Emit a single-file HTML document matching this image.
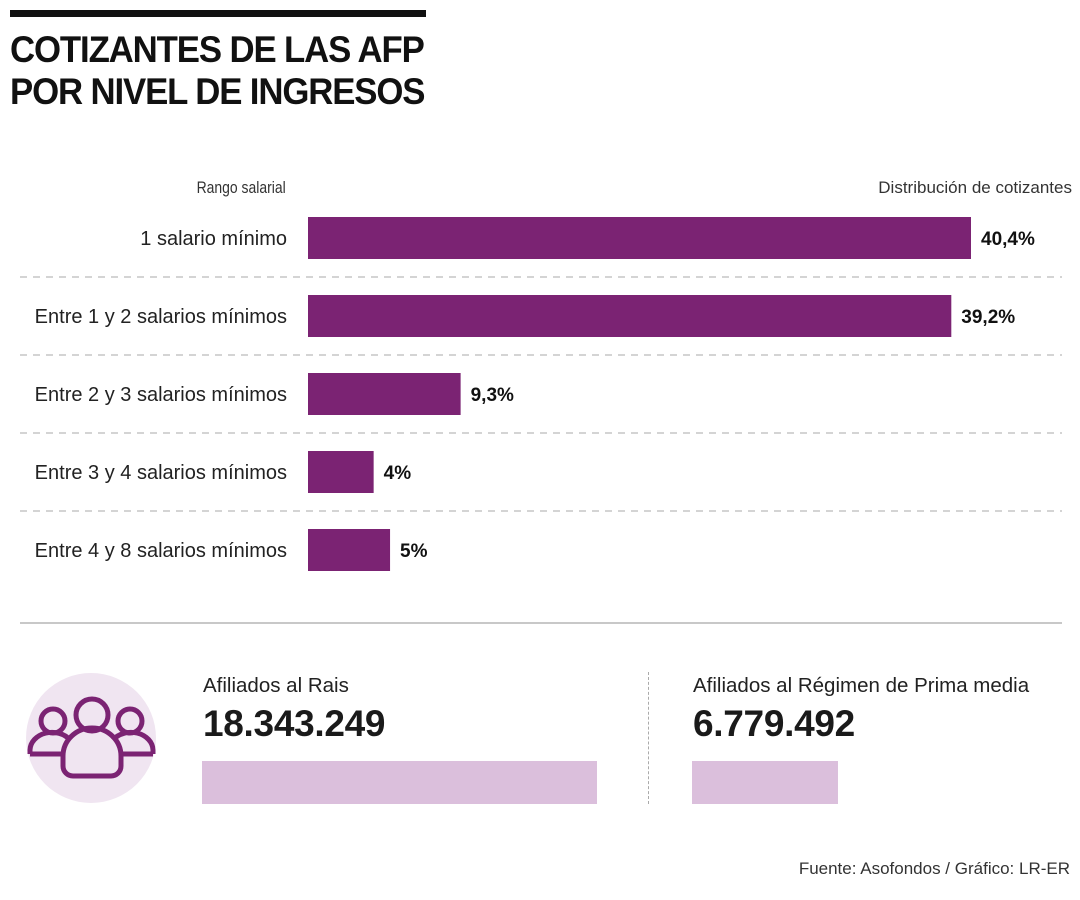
<!DOCTYPE html>
<html><head><meta charset="utf-8"><style>
html,body{margin:0;padding:0;background:#fff;}
body{width:1080px;height:900px;position:relative;overflow:hidden;font-family:"Liberation Sans",sans-serif;color:#1a1a1a;}
.abs{position:absolute;}
.title{left:10px;font-weight:bold;font-size:37px;letter-spacing:-1.2px;transform:scaleX(0.94);transform-origin:left top;white-space:nowrap;color:#111;}
.cond{transform:scaleX(0.82);white-space:nowrap;}
</style></head><body>
<div class="abs" style="left:10px;top:10px;width:416px;height:7px;background:#111"></div>
<div class="abs title" style="top:29px">COTIZANTES DE LAS AFP</div>
<div class="abs title" style="top:71px">POR NIVEL DE INGRESOS</div>
<div class="abs cond" style="right:794px;top:178px;font-size:17px;color:#333;transform-origin:right top">Rango salarial</div>
<div class="abs cond" style="right:8px;top:178px;font-size:17px;color:#333;transform-origin:right top;transform:scaleX(1.0)">Distribución de cotizantes</div>
<svg id="chart" class="abs" style="left:0;top:0" width="1080" height="900"></svg>
<div class="abs" style="left:20px;top:622px;width:1042px;height:2px;background:#c8c8c8"></div>
<svg class="abs" style="left:0;top:640px" width="200" height="170">
<circle cx="91" cy="98" r="65" fill="#f0e5f1"/>
<g fill="none" stroke="#7b2373" stroke-width="5">
<circle cx="53" cy="81" r="12"/><circle cx="130" cy="81" r="12"/>
<path d="M30 114 v-4 a22 18 0 0 1 40 -10"/><path d="M153 114 v-4 a22 18 0 0 0 -40 -10"/>
<path d="M30 114 h34"/><path d="M153 114 h-34"/>
<circle cx="92" cy="75" r="16"/>
<path d="M63 126 v-10 a29 28 0 0 1 58 0 v10 a10 10 0 0 1 -10 10 h-38 a10 10 0 0 1 -10 -10z"/>
</g></svg>
<div class="abs" style="left:203px;top:674px;font-size:20.5px;color:#222">Afiliados al Rais</div>
<div class="abs" style="left:203px;top:703px;font-size:37px;font-weight:bold;letter-spacing:-0.3px">18.343.249</div>
<div class="abs" style="left:648px;top:672px;height:132px;border-left:1px dashed #aaa"></div>
<div class="abs" style="left:693px;top:674px;font-size:20.5px;color:#222">Afiliados al Régimen de Prima media</div>
<div class="abs" style="left:693px;top:703px;font-size:37px;font-weight:bold;letter-spacing:-0.3px">6.779.492</div>
<div class="abs" style="right:10px;top:859px;font-size:17px;color:#333">Fuente: Asofondos / Gráfico: LR-ER</div>
<script>
const categories=["1 salario mínimo","Entre 1 y 2 salarios mínimos","Entre 2 y 3 salarios mínimos","Entre 3 y 4 salarios mínimos","Entre 4 y 8 salarios mínimos"];
const values=[40.4,39.2,9.3,4,5];
const valueLabels=["40,4%","39,2%","9,3%","4%","5%"];
const affiliates=[18343249,6779492];
const NS="http://www.w3.org/2000/svg";
const svg=document.getElementById('chart');
const x0=308, pxPer=663/40.4;
function xs(v){return v*pxPer;}
function yRow(i){return 217+i*78;}
function mk(t,a){const e=document.createElementNS(NS,t);for(const k in a)e.setAttribute(k,a[k]);svg.appendChild(e);return e;}
categories.forEach((c,i)=>{
 const y=yRow(i);
 if(i>0){const l=mk('line',{x1:20,x2:1062,y1:y-18,y2:y-18,stroke:'#bbb','stroke-width':1.3,'stroke-dasharray':'7,6'});
 
 }
 const r=mk('rect',{x:x0,y:y,width:xs(values[i]),height:42,fill:'#7b2373'});
 
 
 const t=mk('text',{x:287,y:y+28,'text-anchor':'end','font-size':20,fill:'#222','font-family':'Liberation Sans, sans-serif'});
 t.textContent=c;
 
 
 const v=mk('text',{x:x0+xs(values[i])+10,y:y+28,'font-size':19,'font-weight':'bold',fill:'#111','font-family':'Liberation Sans, sans-serif'});
 v.textContent=valueLabels[i];
 
 
});
const aScale=395/18343249, ax=[202,692];
affiliates.forEach((a,i)=>{
 const r=mk('rect',{x:ax[i],y:761,width:a*aScale,height:43,fill:'#dbbfdc'});
 
 
});
</script>
</body></html>
